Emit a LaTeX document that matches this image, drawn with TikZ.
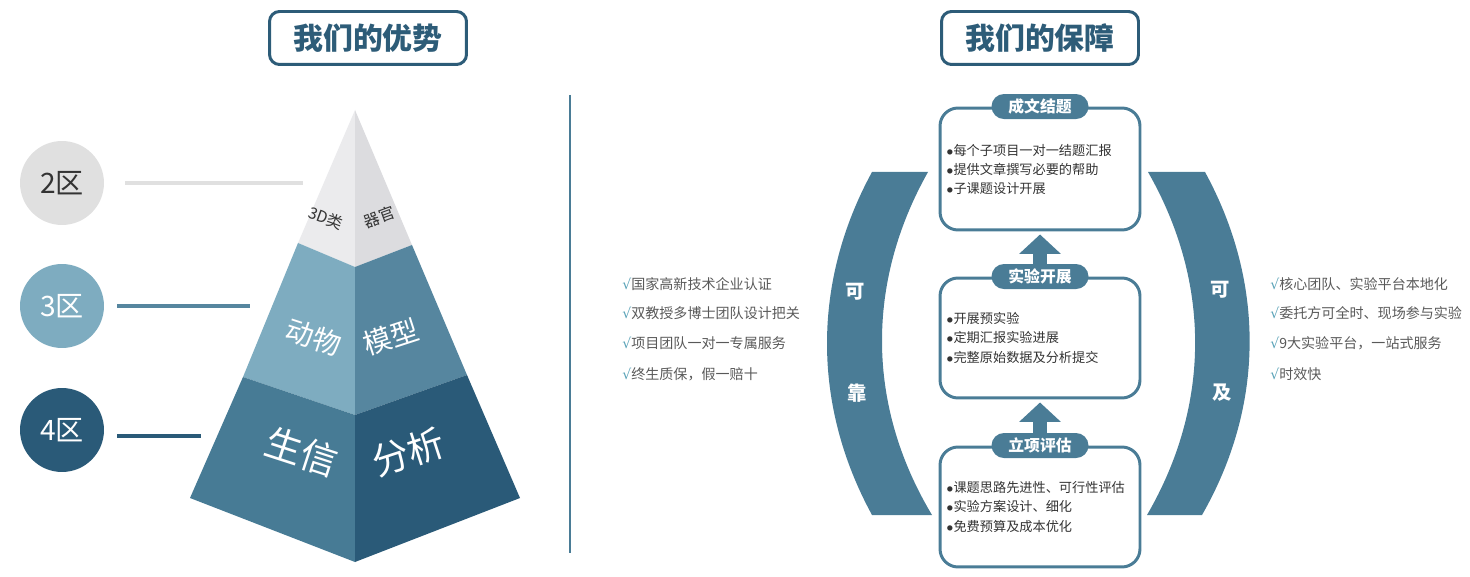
\documentclass[tikz,border=0pt]{standalone}
\usepackage{fontspec}
\setmainfont{Noto Sans CJK SC}
\newfontfamily\symfont{DejaVu Sans}
\usepackage{xcolor}
\usepackage{tikz}
\usetikzlibrary{arrows.meta,positioning}

\definecolor{titleblue}{HTML}{2D5C78}
\definecolor{arcblue}{HTML}{4A7C96}
\definecolor{pyrgreyL}{HTML}{EBEBED}
\definecolor{pyrgreyR}{HTML}{DCDCDF}
\definecolor{pyrmidL}{HTML}{7EACC0}
\definecolor{pyrmidR}{HTML}{56869F}
\definecolor{pyrbotL}{HTML}{477B95}
\definecolor{pyrbotR}{HTML}{2A5A78}
\definecolor{zonegrey}{HTML}{E0E0E0}
\definecolor{listgrey}{HTML}{595959}
\definecolor{checkteal}{HTML}{5BA3B8}

\newcommand{\chk}{{\symfont\color{checkteal}√}}
\newcommand{\dotitem}{$\bullet$}

\begin{document}
\begin{tikzpicture}[x=0.02cm,y=-0.02cm,
  titlebox/.style={draw=titleblue, line width=1.7pt, rounded corners=0.2cm, minimum width=3.94cm, minimum height=1.06cm, text=titleblue, font=\fontsize{17}{20}\selectfont\bfseries},
  zone/.style={circle, minimum size=1.68cm, inner sep=0pt, font=\fontsize{16}{18}\selectfont},
  zoneline/.style={line width=2.2pt},
  pyrtext/.style={text=white, inner sep=0pt},
  pointlist/.style={anchor=base west, inner sep=0pt, text=listgrey, font=\fontsize{8}{10}\selectfont},
  stagebox/.style={draw=arcblue, line width=1.7pt, rounded corners=0.36cm, minimum width=4cm, minimum height=2.4cm},
  stagetag/.style={fill=arcblue, rounded corners=0.25cm, minimum width=1.94cm, minimum height=0.5cm, inner sep=0pt, text=white, font=\fontsize{9}{10}\selectfont\bfseries},
  stagetext/.style={anchor=base west, align=left, inner sep=0pt, text=black!80, font=\fontsize{7.5}{11}\selectfont},
  uparrow/.style={draw=arcblue, line width=8pt, -{Triangle[width=23pt,length=11pt]}, shorten >=0.06cm},
  arctext/.style={text=white, font=\fontsize{11}{12}\selectfont\bfseries}]
  \useasboundingbox (0,0) rectangle (1470,577);

  % titles
  \node (t1) [titlebox] at (368,38) {我们的优势};
  \node (t2) [titlebox] at (1040,38) {我们的保障};

  % pyramid
  \coordinate (apex) at (355,110);
  \coordinate (gl) at (298,243);
  \coordinate (gc) at (355,267);
  \coordinate (gr) at (412,245);
  \coordinate (ml) at (243,377);
  \coordinate (mc) at (355,415);
  \coordinate (mr) at (467,375);
  \coordinate (bl) at (190,498);
  \coordinate (bc) at (355,562);
  \coordinate (br) at (520,498);
  \fill[pyrgreyL] (apex) -- (gl) -- (gc) -- cycle;
  \fill[pyrgreyR] (apex) -- (gc) -- (gr) -- cycle;
  \fill[pyrmidL] (gl) -- (ml) -- (mc) -- (gc) -- cycle;
  \fill[pyrmidR] (gc) -- (mc) -- (mr) -- (gr) -- cycle;
  \fill[pyrbotL] (ml) -- (bl) -- (bc) -- (mc) -- cycle;
  \fill[pyrbotR] (mc) -- (bc) -- (br) -- (mr) -- cycle;

  \node (p1) [pyrtext, text=black!80, rotate=-20, font=\fontsize{9}{10}\selectfont] at (326,218) {3D类};
  \node (p2) [pyrtext, text=black!80, rotate=20, font=\fontsize{9}{10}\selectfont] at (379,217) {器官};
  \node (p3) [pyrtext, rotate=-18, font=\fontsize{16}{18}\selectfont] at (314,337) {动物};
  \node (p4) [pyrtext, rotate=18, font=\fontsize{16}{18}\selectfont] at (391,337) {模型};
  \node (p5) [pyrtext, rotate=-18, font=\fontsize{21}{24}\selectfont] at (302,452) {生信};
  \node (p6) [pyrtext, rotate=18, font=\fontsize{21}{24}\selectfont] at (408,452) {分析};

  % zones
  \node (z2) [zone, fill=zonegrey, text=black!80] at (62,183) {2区};
  \node (z3) [zone, fill=pyrmidL, text=white] at (62,306) {3区};
  \node (z4) [zone, fill=pyrbotR, text=white] at (62,430) {4区};
  \coordinate (z2a) at (125,183);
  \coordinate (z2b) at (303,183);
  \coordinate (z3a) at (117,306);
  \coordinate (z3b) at (250,306);
  \coordinate (z4a) at (117,436);
  \coordinate (z4b) at (201,436);
  \draw[zoneline, zonegrey] (z2a) -- (z2b);
  \draw[zoneline, pyrmidR] (z3a) -- (z3b);
  \draw[zoneline, pyrbotR] (z4a) -- (z4b);

  % divider
  \coordinate (dtop) at (570,95);
  \coordinate (dbot) at (570,553);
  \draw[arcblue, line width=1.2pt] (dtop) -- (dbot);

  % left points
  \node (a1) [pointlist] at (622,290) {\chk 国家高新技术企业认证};
  \node (a2) [pointlist] at (622,319) {\chk 双教授多博士团队设计把关};
  \node (a3) [pointlist] at (622,349) {\chk 项目团队一对一专属服务};
  \node (a4) [pointlist] at (622,379) {\chk 终生质保，假一赔十};

  % right points
  \node (b1) [pointlist] at (1270,290) {\chk 核心团队、实验平台本地化};
  \node (b2) [pointlist] at (1270,319) {\chk 委托方可全时、现场参与实验};
  \node (b3) [pointlist] at (1270,349) {\chk 9大实验平台，一站式服务};
  \node (b4) [pointlist] at (1270,379) {\chk 时效快};

  % arcs
  \fill[arcblue] (872,172) -- (928,172) .. controls (866,282) and (866,405) .. (932,515)
    -- (872,515) .. controls (812,405) and (812,282) .. cycle;
  \fill[arcblue] (1148,172) -- (1205,172) .. controls (1265,282) and (1265,405) .. (1202,515)
    -- (1147,515) .. controls (1211,405) and (1211,282) .. cycle;
  \node (k1) [arctext] at (855,292) {可};
  \node (k2) [arctext] at (857,393) {靠};
  \node (j1) [arctext] at (1220,290) {可};
  \node (j2) [arctext] at (1222,393) {及};

  % stages
  \node (s3) [stagebox, minimum height=2.44cm] at (1040,169) {};
  \node (s2) [stagebox] at (1040,338) {};
  \node (s1) [stagebox] at (1040,507) {};
  \node (g3) [stagetag] at (s3.north) {成文结题};
  \node (g2) [stagetag] at (s2.north) {实验开展};
  \node (g1) [stagetag] at (s1.north) {立项评估};

  \node (c3) [stagetext] at (946,194) {\dotitem 每个子项目一对一结题汇报\\\dotitem 提供文章撰写必要的帮助\\\dotitem 子课题设计开展};
  \node (c2) [stagetext] at (946,362) {\dotitem 开展预实验\\\dotitem 定期汇报实验进展\\\dotitem 完整原始数据及分析提交};
  \node (c1) [stagetext] at (946,531) {\dotitem 课题思路先进性、可行性评估\\\dotitem 实验方案设计、细化\\\dotitem 免费预算及成本优化};

  \draw[uparrow] (g1.north) -- (s2.south);
  \draw[uparrow] (g2.north) -- (s3.south);
\end{tikzpicture}
\end{document}
